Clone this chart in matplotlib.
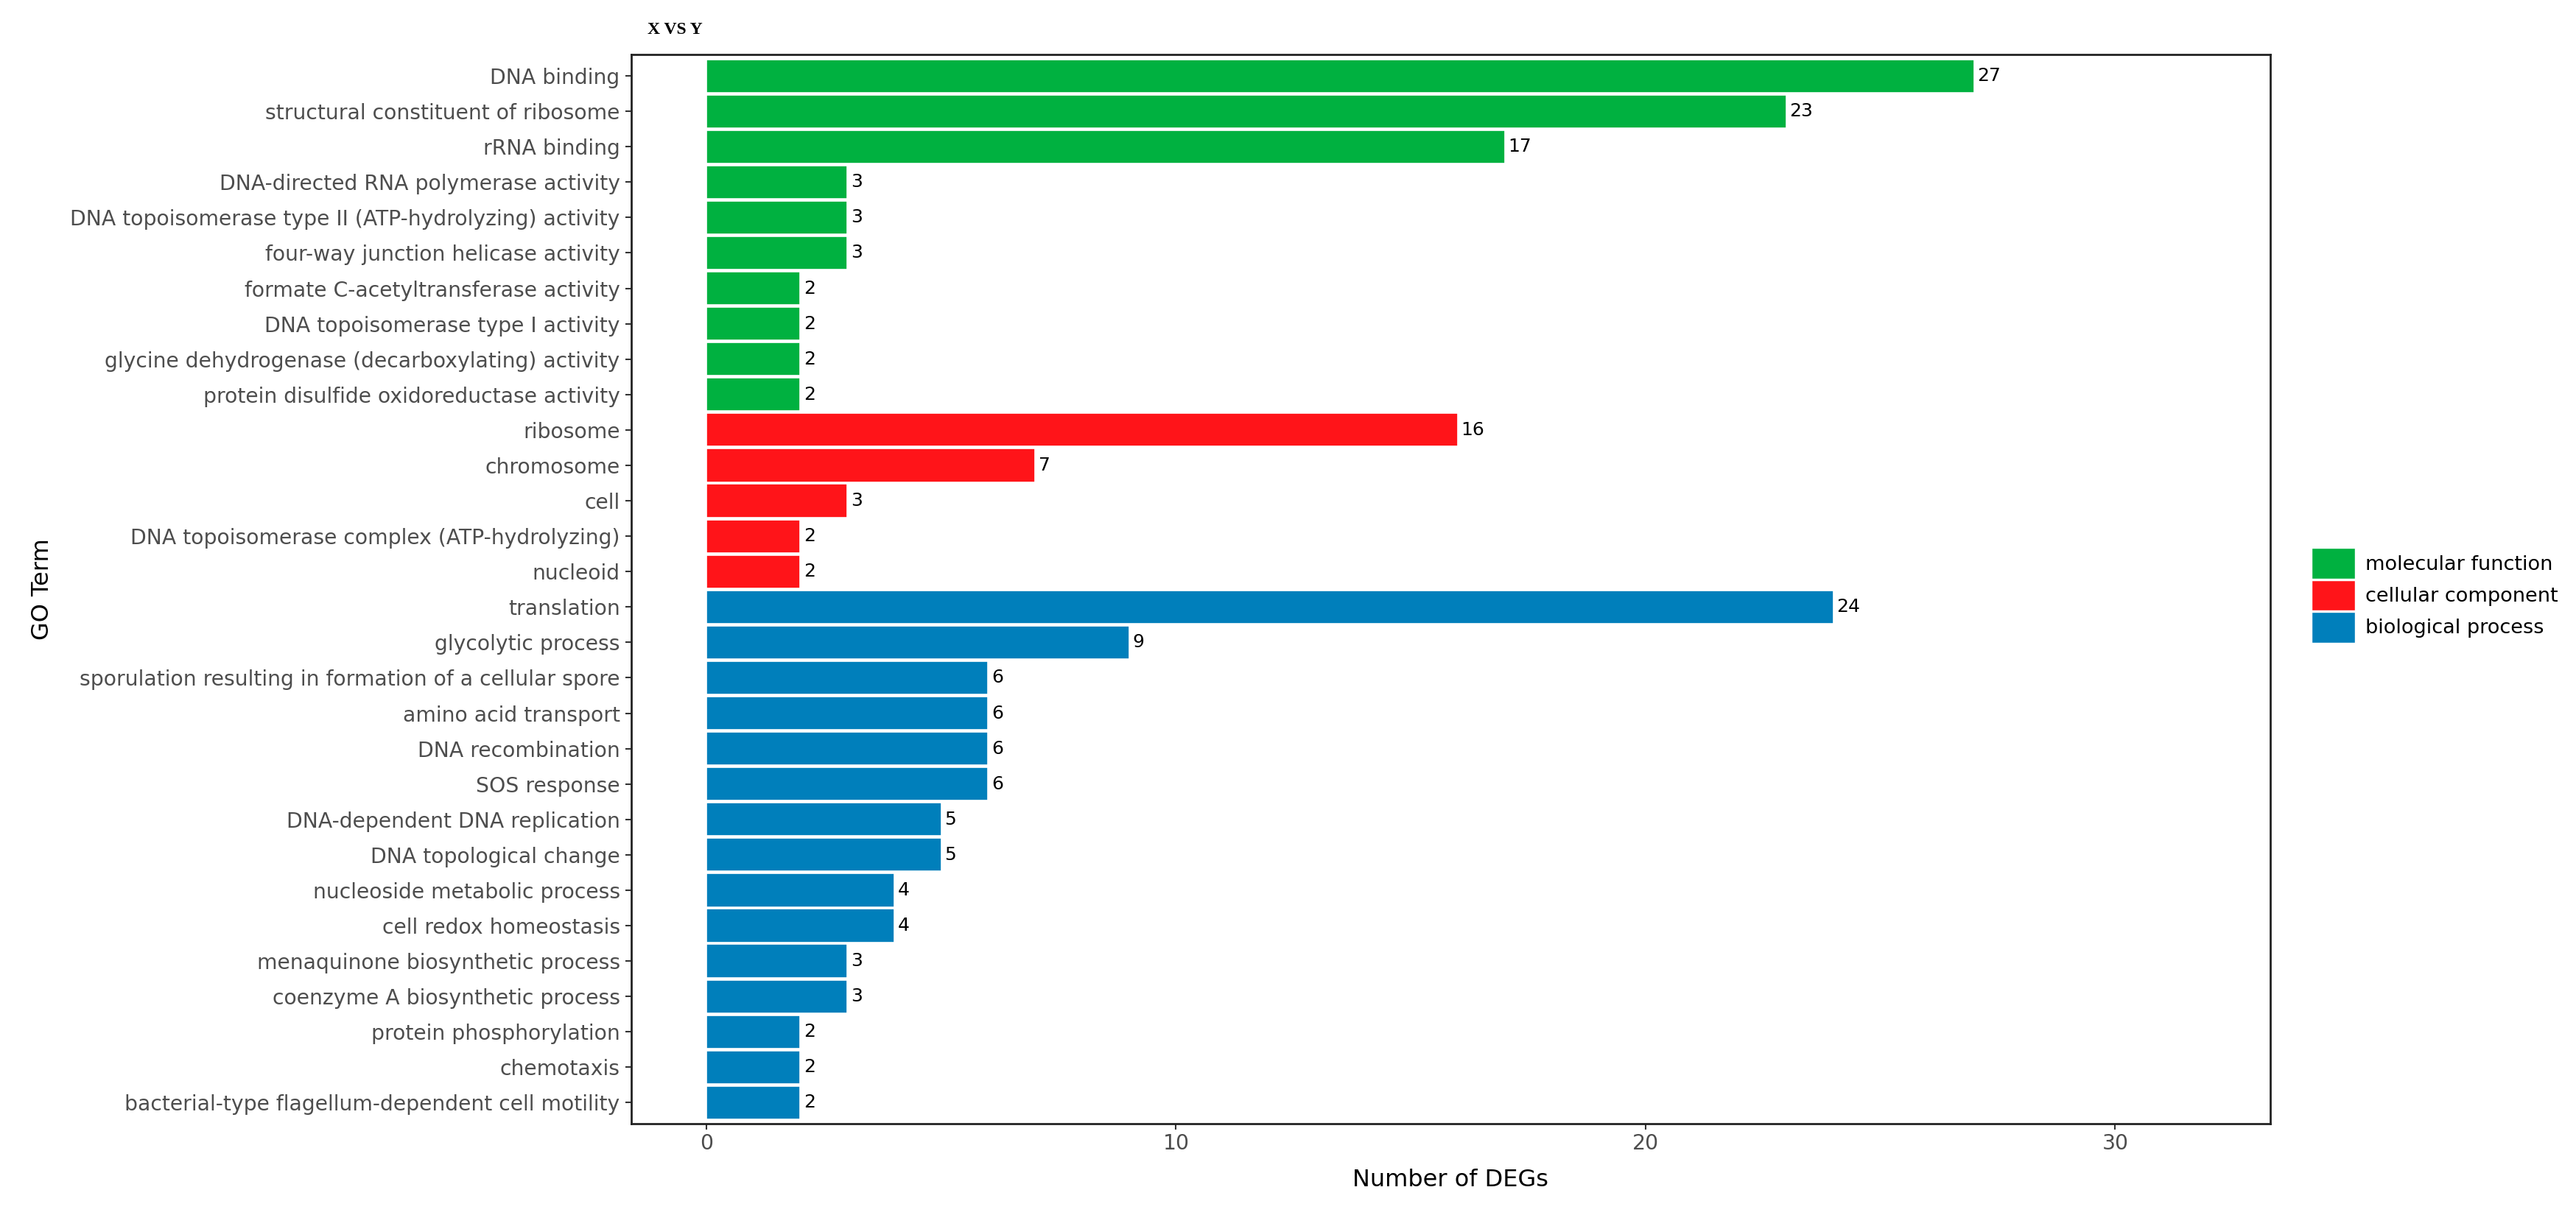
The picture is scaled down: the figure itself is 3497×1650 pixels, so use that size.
import matplotlib
matplotlib.use("Agg")
import matplotlib.pyplot as plt
from matplotlib.patches import Patch

# GO categories and their terms (top to bottom as in the chart)
mf_terms = ["DNA binding", "structural constituent of ribosome", "rRNA binding",
            "DNA-directed RNA polymerase activity",
            "DNA topoisomerase type II (ATP-hydrolyzing) activity",
            "four-way junction helicase activity", "formate C-acetyltransferase activity",
            "DNA topoisomerase type I activity",
            "glycine dehydrogenase (decarboxylating) activity",
            "protein disulfide oxidoreductase activity"]
mf_counts = [27, 23, 17, 3, 3, 3, 2, 2, 2, 2]

cc_terms = ["ribosome", "chromosome", "cell",
            "DNA topoisomerase complex (ATP-hydrolyzing)", "nucleoid"]
cc_counts = [16, 7, 3, 2, 2]

bp_terms = ["translation", "glycolytic process",
            "sporulation resulting in formation of a cellular spore",
            "amino acid transport", "DNA recombination", "SOS response",
            "DNA-dependent DNA replication", "DNA topological change",
            "nucleoside metabolic process", "cell redox homeostasis",
            "menaquinone biosynthetic process", "coenzyme A biosynthetic process",
            "protein phosphorylation", "chemotaxis",
            "bacterial-type flagellum-dependent cell motility"]
bp_counts = [24, 9, 6, 6, 6, 6, 5, 5, 4, 4, 3, 3, 2, 2, 2]

groups = ["molecular function", "cellular component", "biological process"]
colors = ["#00B140", "#FF1419", "#007FBB"]

terms = mf_terms + cc_terms + bp_terms
counts = mf_counts + cc_counts + bp_counts
bar_colors = ([colors[0]] * len(mf_terms) + [colors[1]] * len(cc_terms)
              + [colors[2]] * len(bp_terms))

n = len(terms)
ypos = list(range(n, 0, -1))

fig = plt.figure(figsize=(34.98, 16.5), dpi=100)
ax = fig.add_axes([0.245, 0.075, 0.636, 0.880])

ax.barh(ypos, counts, height=0.94, color=bar_colors, edgecolor="white", linewidth=1.2)
for y, c in zip(ypos, counts):
    ax.text(c + 0.07, y, str(c), va="center", ha="left", fontsize=18, color="black")

ax.set_xlim(-1.6, 33.3)
ax.set_ylim(0.4, n + 0.6)
ax.set_yticks(ypos)
ax.set_yticklabels(terms)
ax.set_xticks([0, 10, 20, 30])
ax.tick_params(axis="both", labelsize=20.3, labelcolor="#4D4D4D", color="#333333",
               length=6, width=1.5)
ax.tick_params(axis="y", pad=5)
for s in ax.spines.values():
    s.set_linewidth(2)
    s.set_color("#222222")

ax.set_xlabel("Number of DEGs", fontsize=23, labelpad=14)
ax.set_ylabel("GO Term", fontsize=23, labelpad=16)
ax.set_title("X VS Y", loc="left", fontsize=17, fontweight="bold",
             family="Liberation Serif", x=0.01, pad=20)

handles = [Patch(facecolor=c, edgecolor="white", label=g) for g, c in zip(groups, colors)]
fig.legend(handles=handles, loc="center left", bbox_to_anchor=(0.890, 0.51),
           frameon=False, fontsize=19.5, handlelength=2.2, handleheight=2.0,
           labelspacing=0.05, handletextpad=0.5)

fig.savefig("out.png", dpi=100)
